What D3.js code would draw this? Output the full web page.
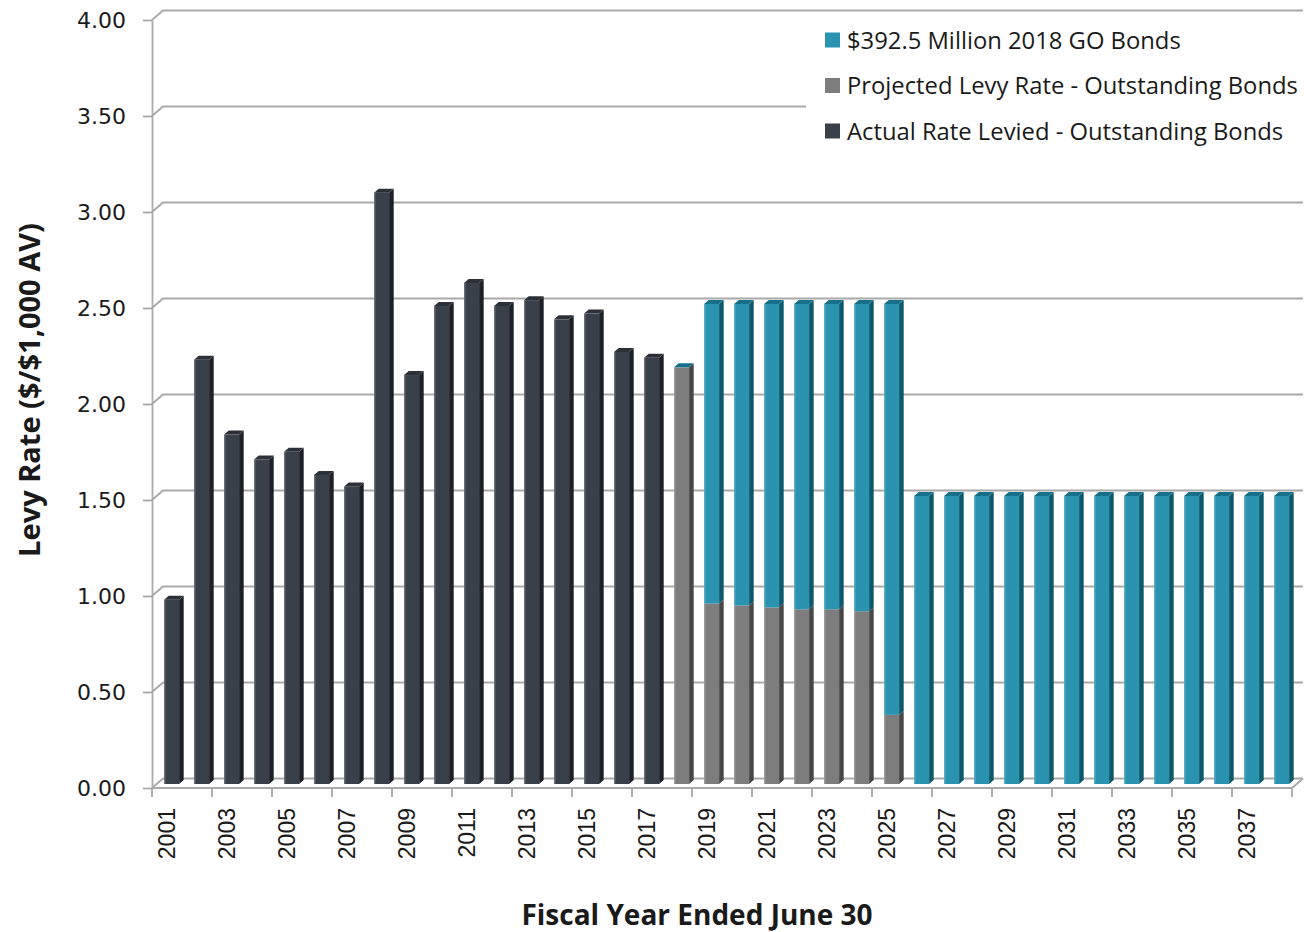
<!DOCTYPE html>
<meta charset="utf-8">
<style type="text/css">
body {
  margin: 0;
  background: #fff;
}
.ytick text {
  font: 22px "DejaVu Sans", sans-serif;
  fill: #1a1a1a;
}
.xlab {
  font: 23px "Liberation Sans", Arial, sans-serif;
  fill: #1a1a1a;
}
.legend text {
  font: 23.8px "Open Sans", sans-serif;
  fill: #1a1a1a;
}
.title {
  font-family: "Open Sans", sans-serif;
  font-weight: bold;
  fill: #1a1a1a;
}
</style>
<body>
<script src="https://cdn.jsdelivr.net/npm/d3@7/dist/d3.min.js"></script>
<script type="text/javascript">

// categories
var years = ["2001","2002","2003","2004","2005","2006","2007","2008","2009","2010",
             "2011","2012","2013","2014","2015","2016","2017","2018","2019","2020",
             "2021","2022","2023","2024","2025","2026","2027","2028","2029","2030",
             "2031","2032","2033","2034","2035","2036","2037","2038"];

// series values ($ per $1,000 AV)
var actualLevied = [0.96, 2.21, 1.82, 1.69, 1.73, 1.61, 1.55, 3.08, 2.13, 2.49,
                    2.61, 2.49, 2.52, 2.42, 2.45, 2.25, 2.22, null, null, null,
                    null, null, null, null, null, null, null, null, null, null,
                    null, null, null, null, null, null, null, null];

var projectedLevy = [null, null, null, null, null, null, null, null, null, null,
                     null, null, null, null, null, null, null, 2.17, 0.94, 0.93,
                     0.92, 0.91, 0.91, 0.90, 0.36, null, null, null, null, null,
                     null, null, null, null, null, null, null, null];

var goBonds2018 = [null, null, null, null, null, null, null, null, null, null,
                   null, null, null, null, null, null, null, 0, 1.56, 1.57,
                   1.58, 1.59, 1.59, 1.60, 2.14, 1.50, 1.50, 1.50, 1.50, 1.50,
                   1.50, 1.50, 1.50, 1.50, 1.50, 1.50, 1.50, 1.50];

var yTicks = [0, 0.5, 1, 1.5, 2, 2.5, 3, 3.5, 4];
var xLabels = ["2001","2003","2005","2007","2009","2011","2013","2015","2017","2019",
               "2021","2023","2025","2027","2029","2031","2033","2035","2037"];

var seriesNames = ["$392.5 Million 2018 GO Bonds",
                   "Projected Levy Rate - Outstanding Bonds",
                   "Actual Rate Levied - Outstanding Bonds"];

var series = [
  {key: "actual", values: actualLevied, front: "#3a404a", side: "#1d2127", top: "#2c3139"},
  {key: "projected", values: projectedLevy, front: "#7d7d7d", side: "#474747", top: "#5e5e5e"},
  {key: "go", values: goBonds2018, front: "#2a93b0", side: "#0d586c", top: "#17708a"}
];

var width = 1316, height = 932;

var svg = d3.select("body").append("svg")
  .attr("width", width)
  .attr("height", height);

var x = d3.scaleBand()
  .domain(years)
  .range([152, 1292])
  .paddingInner(0.5)
  .paddingOuter(0.25);

var y = d3.scaleLinear()
  .domain([0, 4])
  .range([788, 20]);

// 3d offsets: back wall, bar front plane, bar depth
var wall = {dx: 11, dy: -9.5};
var face = {dx: 4.6, dy: -4};
var deep = {dx: 4.6, dy: -4};
var right = 1292 + wall.dx;
var gridColor = "#a9a9a9";

// back wall gridlines
svg.append("g").selectAll("path")
  .data(yTicks)
  .enter()
  .append("path")
    .attr("d", function(d) {
      return "M" + 152 + "," + y(d) + "L" + (152 + wall.dx) + "," + (y(d) + wall.dy) +
             "L" + right + "," + (y(d) + wall.dy);
    })
    .attr("fill", "none")
    .attr("stroke", gridColor)
    .attr("stroke-width", 1.8);

// floor front edge and right side
svg.append("path")
  .attr("d", "M152," + y(0) + "L1292," + y(0) + "L" + right + "," + (y(0) + wall.dy))
  .attr("fill", "none")
  .attr("stroke", gridColor)
  .attr("stroke-width", 1.8);

// white legend box hides the gridlines behind it
svg.append("rect")
  .attr("x", 806)
  .attr("y", 16)
  .attr("width", width - 806)
  .attr("height", 134)
  .attr("fill", "#fff");

// y axis on the front plane
var yAxis = svg.append("g")
  .attr("class", "ytick")
  .attr("transform", "translate(152,0)")
  .call(d3.axisLeft(y).tickValues(yTicks).tickFormat(d3.format(".2f")).tickSize(9).tickSizeOuter(0).tickPadding(17));
yAxis.selectAll("line").attr("stroke", gridColor).attr("stroke-width", 1.8);
yAxis.select(".domain").attr("stroke", gridColor).attr("stroke-width", 1.8);

// x ticks sit between categories, every second one
var step = x.step();
var tickYears = years.filter(function(d, i) { return i % 2 == 0; });
svg.append("g").selectAll("line")
  .data(tickYears.concat(["end"]))
  .enter()
  .append("line")
    .attr("x1", function(d) { return d == "end" ? 1292 : x(d) - (step - x.bandwidth()) / 2; })
    .attr("x2", function(d) { return d == "end" ? 1292 : x(d) - (step - x.bandwidth()) / 2; })
    .attr("y1", y(0))
    .attr("y2", y(0) + 9)
    .attr("stroke", gridColor)
    .attr("stroke-width", 1.8);

svg.append("g").selectAll("text")
  .data(xLabels)
  .enter()
  .append("text")
    .attr("class", "xlab")
    .attr("transform", function(d) { return "translate(" + (x(d) + x.bandwidth() / 2) + ",808) rotate(-90)"; })
    .attr("text-anchor", "end")
    .attr("dy", "0.36em")
    .text(function(d) { return d; });

// build stacked segments
var segments = [];
years.forEach(function(yr, i) {
  var base = 0, last = null;
  series.forEach(function(s) {
    var v = s.values[i];
    if (v == null) return;
    last = {year: yr, y0: base, y1: base + v, s: s};
    segments.push(last);
    base += v;
  });
  if (last) last.cap = true;
});

var bw = x.bandwidth();
var bars = svg.append("g").selectAll("g")
  .data(segments)
  .enter()
  .append("g");

bars.append("rect")
  .attr("x", function(d) { return x(d.year) + face.dx; })
  .attr("y", function(d) { return y(d.y1) + face.dy; })
  .attr("width", bw)
  .attr("height", function(d) { return y(d.y0) - y(d.y1); })
  .attr("fill", function(d) { return d.s.front; });

bars.append("path")
  .attr("d", function(d) {
    var x0 = x(d.year) + face.dx + bw, t = y(d.y1) + face.dy, b = y(d.y0) + face.dy;
    return "M" + x0 + "," + t + "L" + (x0 + deep.dx) + "," + (t + deep.dy) +
           "L" + (x0 + deep.dx) + "," + (b + deep.dy) + "L" + x0 + "," + b + "Z";
  })
  .attr("fill", function(d) { return d.s.side; });

bars.filter(function(d) { return d.cap; })
  .append("path")
  .attr("d", function(d) {
    var x0 = x(d.year) + face.dx, t = y(d.y1) + face.dy;
    return "M" + x0 + "," + t + "L" + (x0 + bw) + "," + t +
           "L" + (x0 + bw + deep.dx) + "," + (t + deep.dy) +
           "L" + (x0 + deep.dx) + "," + (t + deep.dy) + "Z";
  })
  .attr("fill", function(d) { return d.s.top; });

// light edge on bar fronts
bars.append("rect")
  .attr("x", function(d) { return x(d.year) + face.dx; })
  .attr("y", function(d) { return y(d.y1) + face.dy; })
  .attr("width", 1.5)
  .attr("height", function(d) { return y(d.y0) - y(d.y1); })
  .attr("fill", "#fff")
  .attr("opacity", 0.18);

// legend
var legendColors = [series[2].front, series[1].front, series[0].front];
var legend = svg.append("g").attr("class", "legend")
  .selectAll("g")
  .data(seriesNames)
  .enter()
  .append("g")
    .attr("transform", function(d, i) { return "translate(825," + (40 + i * 45.5) + ")"; });

legend.append("rect")
  .attr("x", 0)
  .attr("y", -7.5)
  .attr("width", 15)
  .attr("height", 15)
  .attr("fill", function(d, i) { return legendColors[i]; });

legend.append("text")
  .attr("x", 22)
  .attr("dy", "0.36em")
  .text(function(d) { return d; });

// axis titles
svg.append("text")
  .attr("class", "title")
  .attr("transform", "translate(30,390) rotate(-90)")
  .attr("text-anchor", "middle")
  .attr("dy", "0.35em")
  .style("font-size", "29px")
  .text("Levy Rate ($/$1,000 AV)");

svg.append("text")
  .attr("class", "title")
  .attr("x", 697)
  .attr("y", 925)
  .attr("text-anchor", "middle")
  .style("font-size", "28px")
  .text("Fiscal Year Ended June 30");

</script>
</body>
